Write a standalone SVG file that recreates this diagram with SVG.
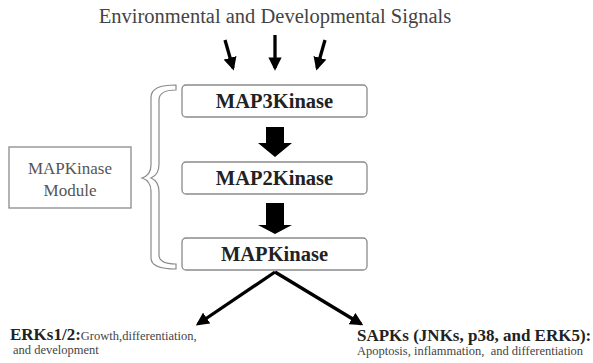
<svg xmlns="http://www.w3.org/2000/svg" width="593" height="363" viewBox="0 0 593 363">
<defs>
<style>
.t{font-family:"Liberation Serif","Times New Roman",serif;}
.box{fill:#fff;stroke:#8a8a8a;stroke-width:1.3;}
.bt{font-family:"Liberation Serif","Times New Roman",serif;font-weight:bold;font-size:20.5px;fill:#222;text-anchor:middle;}
.sa{stroke:#000;stroke-width:3.3;fill:none;}
.ah{fill:#000;}
</style>
<marker id="h" viewBox="0 0 10 10" refX="8" refY="5" markerWidth="4" markerHeight="4" orient="auto" markerUnits="strokeWidth">
<path d="M0,0 L10,5 L0,10 Z" fill="#000"/>
</marker>
</defs>
<rect width="593" height="363" fill="#fff"/>
<text class="t" x="275" y="23" font-size="20.5" fill="#444" text-anchor="middle">Environmental and Developmental Signals</text>

<g id="connectors">
<line class="sa" x1="225" y1="40" x2="233" y2="68" marker-end="url(#h)"/>
<line class="sa" x1="275" y1="35" x2="275" y2="68" marker-end="url(#h)"/>
<line class="sa" x1="325" y1="40" x2="317" y2="68" marker-end="url(#h)"/>
<path class="ah" d="M266,127 H284 V143 H292 L275,157 L258,143 H266 Z"/>
<path class="ah" d="M266,203 H284 V225 H292 L275,234 L258,225 H266 Z"/>
<line class="sa" x1="275" y1="272" x2="198" y2="324" marker-end="url(#h)"/>
<line class="sa" x1="275" y1="272" x2="361" y2="324" marker-end="url(#h)"/>
</g>

<g id="brace">
<path d="M176,85 C160,85 151,88 151,98 L151,165 C151,172 148,176 142,178 C148,180 151,184 151,191 L151,258 C151,266 160,269 176,269 L176,264 C166,264 159,262 159,255 L159,192 C159,185 156,180 151,178 C156,176 159,171 159,164 L159,100 C159,93 166,90 176,90 Z" fill="#fff" stroke="#8a8a8a" stroke-width="1.2"/>
</g>

<g id="module">
<rect class="box" x="9" y="147" width="122" height="61"/>
<text class="t" x="70" y="174" font-size="17" fill="#555" text-anchor="middle">MAPKinase</text>
<text class="t" x="70" y="196" font-size="17" fill="#555" text-anchor="middle">Module</text>
</g>

<g id="map3k">
<rect class="box" x="182" y="85" width="185" height="32" rx="4"/>
<text class="bt" x="274.5" y="108">MAP3Kinase</text>
</g>
<g id="map2k">
<rect class="box" x="182" y="162" width="185" height="32" rx="4"/>
<text class="bt" x="274.5" y="185">MAP2Kinase</text>
</g>
<g id="mapk">
<rect class="box" x="182" y="238" width="185" height="32" rx="4"/>
<text class="bt" x="274.5" y="261">MAPKinase</text>
</g>

<g id="erks">
<text class="t" x="10" y="340" fill="#222"><tspan font-weight="bold" font-size="17">ERKs1/2:</tspan><tspan font-size="12.5" fill="#444">Growth,differentiation,</tspan></text>
<text class="t" x="13" y="354" font-size="12.5" fill="#444">and development</text>
</g>
<g id="sapks">
<text class="t" x="357" y="341" font-weight="bold" font-size="17" fill="#222">SAPKs (JNKs, p38, and ERK5):</text>
<text class="t" x="357" y="355" font-size="12.5" fill="#444" xml:space="preserve">Apoptosis, inflammation,  and differentiation</text>
</g>
</svg>
